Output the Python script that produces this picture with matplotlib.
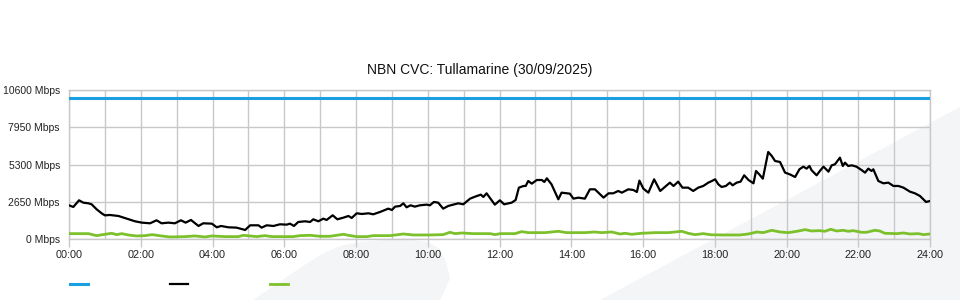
import matplotlib
matplotlib.use("Agg")
import matplotlib.pyplot as plt
from matplotlib.patches import Polygon
from matplotlib.ticker import FixedLocator, MultipleLocator
import numpy as np

plt.rcParams['font.family'] = ['Liberation Sans', 'DejaVu Sans']

title = "NBN CVC: Tullamarine (30/09/2025)"

capacity_hours = [0, 24]
capacity_mbps = [10000, 10000]

black_hours = [0.0, 0.12, 0.28, 0.40, 0.54, 0.63, 0.77, 0.91, 1.00, 1.14, 1.38, 1.61, 1.84,
               2.03, 2.26, 2.44, 2.58, 2.77, 2.95, 3.12, 3.25, 3.40, 3.61, 3.74, 3.98,
               4.12, 4.24, 4.44, 4.67, 4.91, 5.05, 5.28, 5.37, 5.51, 5.70, 5.88,
               6.07, 6.16, 6.27, 6.39, 6.58, 6.72, 6.81, 6.95, 7.09, 7.18, 7.35, 7.48,
               7.65, 7.79, 7.88, 8.02, 8.16, 8.35, 8.48, 8.67, 8.90, 9.00, 9.09, 9.23,
               9.32, 9.41, 9.52, 9.64, 9.78, 9.97, 10.06, 10.17, 10.29, 10.43, 10.57,
               10.71, 10.85, 10.99, 11.18, 11.32, 11.48, 11.55, 11.64, 11.87, 12.01,
               12.13, 12.34, 12.45, 12.54, 12.67, 12.73, 12.80, 12.90, 13.04, 13.18,
               13.25, 13.32, 13.45, 13.64, 13.73, 13.87, 13.96, 14.06, 14.20, 14.38,
               14.52, 14.66, 14.90, 15.04, 15.17, 15.31, 15.41, 15.59, 15.73, 15.83,
               15.90, 16.01, 16.15, 16.31, 16.48, 16.62, 16.75, 16.85, 16.98, 17.10,
               17.26, 17.40, 17.54, 17.68, 17.82, 17.92, 18.01, 18.10, 18.19, 18.31,
               18.42, 18.50, 18.61, 18.72, 18.82, 18.94, 19.08, 19.15, 19.24, 19.34,
               19.49, 19.59, 19.68, 19.82, 19.96, 20.09, 20.24, 20.36, 20.47, 20.56,
               20.64, 20.70, 20.84, 20.93, 21.03, 21.17, 21.26, 21.35, 21.49, 21.57,
               21.63, 21.72, 21.82, 21.95, 22.09, 22.19, 22.28, 22.37, 22.42, 22.56,
               22.70, 22.84, 22.98, 23.12, 23.26, 23.44, 23.58, 23.72, 23.89, 24.0]
black_mbps = [2413, 2295, 2768, 2600, 2555, 2485, 2130, 1845, 1700, 1727, 1655, 1467, 1278,
              1183, 1136, 1349, 1136, 1183, 1136, 1349, 1183, 1372, 946, 1136, 1112,
              852, 946, 852, 828, 663, 994, 994, 828, 994, 946, 1065,
              1041, 1112, 946, 1230, 1278, 1230, 1420, 1278, 1467, 1372, 1704, 1420,
              1538, 1656, 1514, 1846, 1798, 1846, 1775, 1940, 2177, 2082, 2319, 2366,
              2555, 2271, 2413, 2319, 2413, 2461, 2413, 2650, 2603, 2177, 2366,
              2461, 2555, 2484, 2887, 3029, 3170, 3005, 3265, 2461, 2768,
              2484, 2603, 2792, 3667, 3786, 3786, 4141, 3951, 4211, 4211,
              4070, 4330, 3904, 2839, 3312, 3265, 3241, 2887, 2958, 2887,
              3549, 3549, 2958, 3265, 3265, 3431, 3312, 3549, 3502, 3360,
              4164, 3597, 3312, 4259, 3431, 3739, 4022, 3786, 4093, 3667,
              3667, 3431, 3667, 3786, 4022, 4141, 4259, 3904, 3715, 3786,
              4022, 3833, 4022, 4093, 4543, 4211, 3975, 4850, 4614, 4306,
              6199, 5915, 5560, 5489, 4732, 4614, 4424, 4969, 5158, 5016,
              5205, 4898, 4543, 4850, 5158, 4803, 5252, 5324, 5797, 5205,
              5442, 5205, 5252, 5158, 4921, 4732, 5016, 4850, 4969, 4141,
              3975, 4022, 3786, 3786, 3667, 3384, 3265, 3076, 2650, 2721]

green_hours = [0.0, 0.54, 0.77, 1.00, 1.19, 1.33, 1.47, 1.65, 1.89, 2.12, 2.32, 2.58, 2.81,
               3.23, 3.51, 3.79, 3.98, 4.35, 4.72, 4.86, 5.05, 5.23, 5.46, 5.65, 6.02,
               6.25, 6.44, 6.72, 7.00, 7.27, 7.65, 7.79, 8.02, 8.30, 8.48, 8.95, 9.32,
               9.60, 10.06, 10.43, 10.62, 10.76, 10.95, 11.27, 11.74, 11.88, 12.02,
               12.43, 12.62, 12.80, 13.27, 13.64, 13.87, 14.10, 14.38, 14.66, 14.85,
               15.13, 15.36, 15.50, 15.68, 15.96, 16.33, 16.71, 17.08, 17.26, 17.45,
               17.68, 17.90, 18.24, 18.70, 18.94, 19.17, 19.35, 19.59, 19.82, 20.05,
               20.29, 20.52, 20.70, 20.93, 21.07, 21.23, 21.40, 21.58, 21.72, 21.86,
               22.09, 22.23, 22.46, 22.60, 22.74, 23.07, 23.26, 23.44, 23.68, 23.82, 24.0]
green_mbps = [402, 402, 260, 355, 426, 331, 402, 308, 237, 260, 331, 237, 166,
              190, 237, 166, 237, 190, 190, 284, 237, 190, 260, 190, 190,
              190, 260, 284, 213, 213, 355, 284, 190, 190, 260, 260, 378,
              308, 308, 331, 497, 402, 449, 402, 402, 331, 402,
              402, 544, 473, 473, 568, 473, 473, 473, 520, 473,
              520, 378, 426, 355, 426, 473, 473, 568, 426, 331,
              402, 320, 308, 308, 378, 520, 473, 639, 520, 473,
              568, 686, 591, 615, 568, 710, 591, 639, 568, 615,
              497, 497, 639, 591, 426, 402, 449, 378, 402, 331, 378]

y_ticks = [0, 2650, 5300, 7950, 10600]
y_tick_labels = [f"{v} Mbps" for v in y_ticks]
x_major = list(range(0, 25, 2))
x_labels = [f"{h:02d}:00" for h in x_major]

W, H = 960, 300
fig = plt.figure(figsize=(W / 100, H / 100), dpi=100)
fig.patch.set_facecolor('white')

wm_color = '#f4f5f7'
def px(pts):
    return [(x / W, 1 - y / H) for x, y in pts]
fig.patches.append(Polygon(px([(253, 300), (275, 285), (300, 268), (322, 254), (340, 246),
                               (360, 242), (385, 240), (410, 240), (428, 242), (440, 249),
                               (446, 262), (450, 278), (444, 292), (440, 300)]),
                           closed=True, transform=fig.transFigure, facecolor=wm_color,
                           edgecolor='none', zorder=-10))
fig.patches.append(Polygon(px([(600, 300), (960, 107), (960, 300)]), closed=True,
                           transform=fig.transFigure, facecolor=wm_color,
                           edgecolor='none', zorder=-10))

ax = fig.add_axes([69 / W, 1 - 239.3 / H, (930 - 69) / W, (239.3 - 90) / H])
ax.set_facecolor('none')

grid_c = '#c8c8c8'
ax.set_xlim(0, 24)
ax.set_ylim(0, 10600)
ax.xaxis.set_major_locator(FixedLocator(x_major))
ax.xaxis.set_minor_locator(MultipleLocator(1))
ax.set_xticklabels(x_labels)
ax.set_yticks(y_ticks)
ax.set_yticklabels(y_tick_labels)
ax.grid(True, which='both', axis='x', color=grid_c, lw=1)
ax.grid(True, which='major', axis='y', color=grid_c, lw=1)
ax.set_axisbelow(True)
ax.tick_params(axis='x', which='major', length=6, color=grid_c, width=1, labelsize=7.8,
               pad=2, labelcolor='#222222')
ax.tick_params(axis='x', which='minor', length=0)
ax.tick_params(axis='y', length=0, labelsize=7.5, pad=6.5, labelcolor='#222222')
for s in ax.spines.values():
    s.set_color(grid_c)
    s.set_linewidth(1)

l1, = ax.plot(capacity_hours, capacity_mbps, color='#1a9fe0', lw=2.2, zorder=3)
l2, = ax.plot(black_hours, black_mbps, color='black', lw=1.6, zorder=4)
l3, = ax.plot(green_hours, green_mbps, color='#7cc12c', lw=2, zorder=3)

fig.text(0.5, 1 - 70 / H, title, ha='center', va='center', fontsize=10, color='#111111')

fig.legend([l1, l2, l3], ['', '', ''], ncol=3, frameon=False, fontsize=7.5,
           loc='center left', bbox_to_anchor=(70 / W, 1 - 285 / H),
           bbox_transform=fig.transFigure, handlelength=1.75, handletextpad=0.0,
           columnspacing=7.85, borderaxespad=0, borderpad=0)

fig.savefig('out.png', dpi=100)
